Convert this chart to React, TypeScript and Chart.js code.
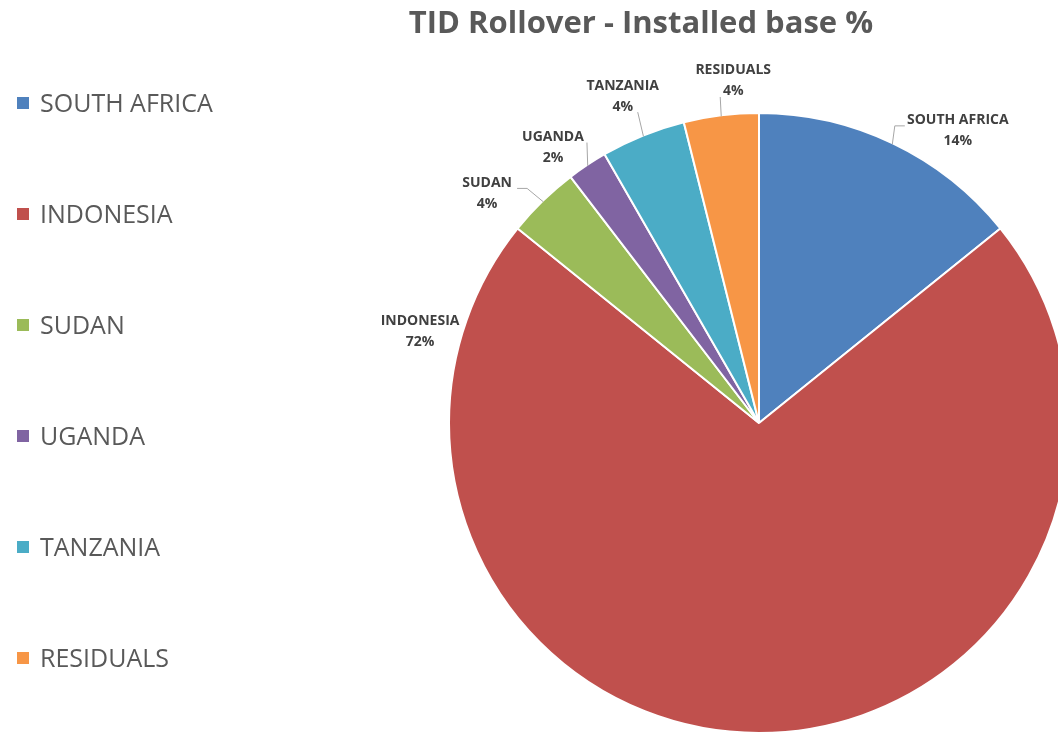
import React, { useEffect, useRef } from "react";
import { Chart, registerables } from "chart.js";

Chart.register(...registerables);

const categories = ["SOUTH AFRICA", "INDONESIA", "SUDAN", "UGANDA", "TANZANIA", "RESIDUALS"];
const shares = [14.2, 71.6, 3.8, 2.1, 4.4, 3.9];
const colors = ["#4F81BD", "#C0504D", "#9BBB59", "#8064A2", "#4BACC6", "#F79646"];
const titleText = "TID Rollover - Installed base %";

// label placement: angle (deg clockwise from top) and distance from pie centre,
// leader attach offset relative to label centre, optional elbow
const labelLayout = [
  { angle: 34.1, dist: 354.6, attach: [-53, -3.5], elbow: [-63, -3.5] },
  { angle: 285.3, dist: 351.4, attach: null, elbow: null },
  { angle: 310.3, dist: 356.5, attach: [30, -4], elbow: [40, -4] },
  { angle: 323.3, dist: 344.8, attach: [34, -4], elbow: null },
  { angle: 337.4, dist: 354.6, attach: [15, 16.5], elbow: null },
  { angle: 355.7, dist: 344.0, attach: [-13, 17], elbow: null },
];

const overlayPlugin = {
  id: "overlay",
  afterDatasetsDraw(chart: any) {
    const ctx: CanvasRenderingContext2D = chart.ctx;
    const meta = chart.getDatasetMeta(0);
    const data = chart.data.datasets[0].data as number[];
    const total = data.reduce((a, b) => a + b, 0);
    ctx.save();

    // title
    ctx.fillStyle = "#595959";
    ctx.font = "bold 31px 'Open Sans'";
    ctx.textAlign = "center";
    ctx.textBaseline = "alphabetic";
    ctx.fillText(titleText, 641, 33);

    // legend
    ctx.textAlign = "left";
    ctx.font = "25px 'Open Sans'";
    chart.data.labels.forEach((lab: string, i: number) => {
      const cy = 103 + i * 111;
      ctx.fillStyle = colors[i];
      ctx.fillRect(17, cy - 6, 12, 12);
      ctx.fillStyle = "#595959";
      ctx.fillText(lab, 40, cy + 9);
    });

    // data labels + leader lines
    ctx.font = "bold 14px 'Open Sans'";
    ctx.textAlign = "center";
    meta.data.forEach((arc: any, i: number) => {
      const { x: cx, y: cy, startAngle, endAngle, outerRadius } = arc.getProps(
        ["x", "y", "startAngle", "endAngle", "outerRadius"],
        true
      );
      const L = labelLayout[i];
      const th = (L.angle * Math.PI) / 180 - Math.PI / 2;
      const lx = cx + L.dist * Math.cos(th);
      const ly = cy + L.dist * Math.sin(th);
      const pct = Math.round((data[i] / total) * 100) + "%";
      ctx.fillStyle = "#404040";
      ctx.fillText(chart.data.labels[i], lx, ly - 10.5 + 5);
      ctx.fillText(pct, lx, ly + 10.5 + 5);

      if (L.attach) {
        const mid = (startAngle + endAngle) / 2;
        const px = cx + (outerRadius - 1) * Math.cos(mid);
        const py = cy + (outerRadius - 1) * Math.sin(mid);
        ctx.strokeStyle = "#A6A6A6";
        ctx.lineWidth = 1;
        ctx.beginPath();
        ctx.moveTo(px, py);
        if (L.elbow) ctx.lineTo(lx + L.elbow[0], ly + L.elbow[1]);
        ctx.lineTo(lx + L.attach[0], ly + L.attach[1]);
        ctx.stroke();
      }
    });
    ctx.restore();
  },
};

export default function App() {
  const ref = useRef<HTMLCanvasElement>(null);
  useEffect(() => {
    if (!ref.current) return;
    const chart = new Chart(ref.current, {
      type: "pie",
      data: {
        labels: categories,
        datasets: [
          {
            data: shares,
            backgroundColor: colors,
            borderColor: "#FFFFFF",
            borderWidth: 2,
            clip: false as any,
          },
        ],
      },
      options: {
        responsive: false,
        animation: false,
        radius: 310,
        layout: { padding: { left: 460, right: 0, top: 114, bottom: 0 } },
        plugins: {
          legend: { display: false },
          title: { display: false },
          tooltip: { enabled: false },
        },
      } as any,
      plugins: [overlayPlugin],
    });
    return () => chart.destroy();
  }, []);
  return (
    <div style={{ position: "absolute", left: 0, top: 0, width: 1058, height: 732, overflow: "hidden", background: "#fff" }}>
      <canvas ref={ref} width={1058} height={732} style={{ display: "block" }} />
    </div>
  );
}
